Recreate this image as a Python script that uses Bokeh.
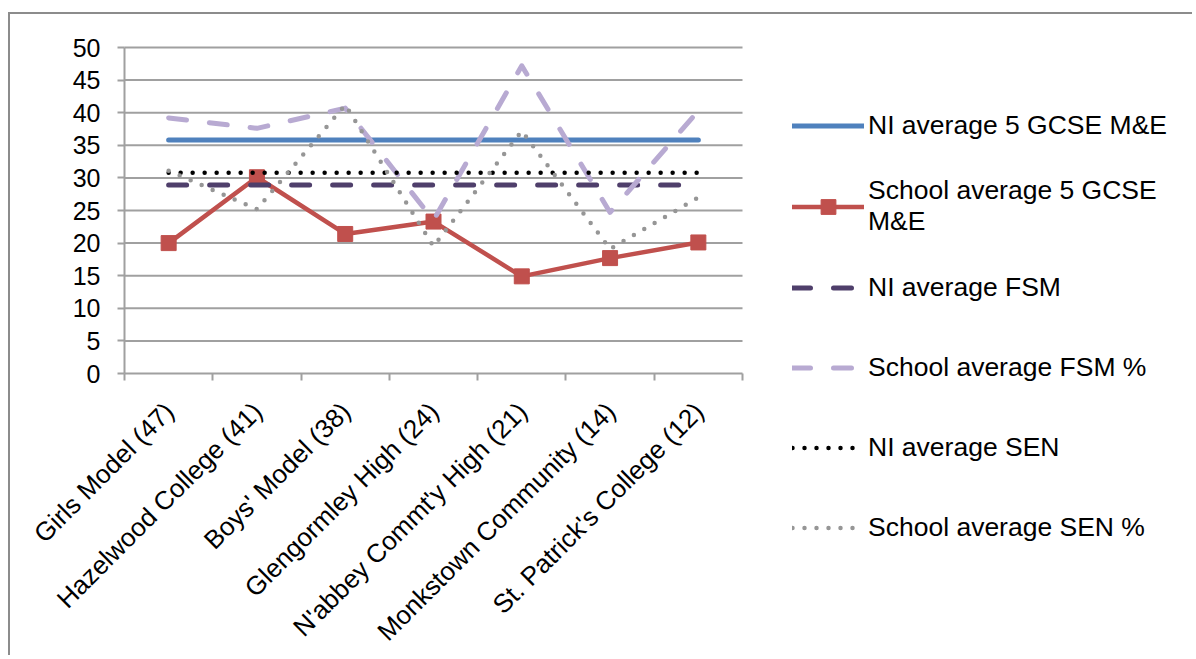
from bokeh.plotting import figure
from bokeh.models import FixedTicker, Legend, LegendItem, Range1d
from bokeh.core.properties import value
from bokeh.embed import file_html
from bokeh.resources import INLINE

categories = ["Girls Model (47)", "Hazelwood College (41)", "Boys' Model (38)",
              "Glengormley High (24)", "N'abbey Commt'y High (21)",
              "Monkstown Community (14)", "St. Patrick's College (12)"]
ni_gcse = [35.8, 35.8, 35.8, 35.8, 35.8, 35.8, 35.8]
school_gcse = [20.0, 30.1, 21.4, 23.3, 14.9, 17.7, 20.1]
ni_fsm = [28.9, 28.9, 28.9, 28.9, 28.9, 28.9, 28.9]
school_fsm = [39.2, 37.6, 40.7, 23.5, 47.2, 24.7, 40.3]
ni_sen = [30.8, 30.8, 30.8, 30.8, 30.8, 30.8, 30.8]
school_sen = [31.1, 25.2, 41.2, 19.5, 37.2, 19.1, 27.0]
y_ticks = [0, 5, 10, 15, 20, 25, 30, 35, 40, 45, 50]

FONT = "Liberation Sans"
GRID = "#a0a0a0"
n = len(categories)
xs = list(range(1, n + 1))

# layout (pixels within the canvas): the frame covers the whole canvas
W, H = 1184, 643
AREA_L, AREA_T = 114, 33          # top-left of the 0..50 / category area
AREA_W, AREA_H = 618, 326
Y_MAX = 50
ux = AREA_W / n                    # px per category
uy = AREA_H / Y_MAX                # px per unit
x_start = 0.5 - AREA_L / ux
x_end = n + 0.5 + (W - AREA_L - AREA_W) / ux
y_end = Y_MAX + AREA_T / uy
y_start = -(H - AREA_T - AREA_H) / uy

p = figure(width=W, height=H, x_range=Range1d(x_start, x_end), y_range=Range1d(y_start, y_end),
           output_backend="svg", toolbar_location=None,
           min_border_left=0, min_border_right=0, min_border_top=0, min_border_bottom=0)
p.styles = {"border-left": "2px solid #8c8c8c", "border-top": "2px solid #8c8c8c",
            "margin-top": "12px", "margin-left": "8px"}
p.outline_line_color = None
p.background_fill_color = "white"
p.border_fill_color = "white"
p.xgrid.visible = False
p.ygrid.visible = False

p.yaxis.fixed_location = 0.5
p.yaxis.ticker = FixedTicker(ticks=y_ticks)
p.yaxis.bounds = (0, Y_MAX)
p.yaxis.axis_line_color = GRID
p.yaxis.axis_line_width = 2
p.yaxis.major_tick_line_color = GRID
p.yaxis.major_tick_line_width = 2
p.yaxis.major_tick_out = 7
p.yaxis.major_tick_in = 0
p.yaxis.minor_tick_line_color = None
p.yaxis.major_label_text_font = FONT
p.yaxis.major_label_text_font_size = "25px"
p.yaxis.major_label_text_color = "black"
p.yaxis.major_label_standoff = 17

bounds_x = [x - 0.5 for x in xs] + [n + 0.5]
p.xaxis.fixed_location = 0
p.xaxis.bounds = (0.5, n + 0.5)
p.xaxis.ticker = FixedTicker(ticks=bounds_x)
p.xaxis.major_label_overrides = {b: "" for b in bounds_x}
p.xaxis.axis_line_color = GRID
p.xaxis.axis_line_width = 2
p.xaxis.major_tick_line_color = GRID
p.xaxis.major_tick_line_width = 2
p.xaxis.major_tick_out = 7
p.xaxis.major_tick_in = 0
p.xaxis.minor_tick_line_color = None

# horizontal gridlines over the category area
p.segment(x0=0.5, x1=n + 0.5, y0=y_ticks[1:], y1=y_ticks[1:], line_color=GRID, line_width=2)

# rotated category labels
p.text(x=xs, y=[0] * n, text=categories, angle=0.785398, text_align="right",
       text_baseline="top", x_offset=-10, y_offset=23, text_font=value(FONT),
       text_font_size="26px", text_color="black")

r1 = p.line(xs, ni_gcse, line_color="#4f81bd", line_width=5, line_cap="round", line_join="round")
r2 = p.line(xs, school_gcse, line_color="#c0504d", line_width=4.5, line_cap="round", line_join="round")
r2m = p.scatter(xs, school_gcse, marker="square", size=15, fill_color="#c0504d", line_color="#c0504d")
r3 = p.line(xs, ni_fsm, line_color="#4f3f6b", line_width=5, line_dash="18 23", line_cap="round")
r4 = p.line(xs, school_fsm, line_color="#b8aad2", line_width=5, line_dash="18 23", line_cap="round", line_join="round")
r5 = p.line(xs, ni_sen, line_color="black", line_width=4.5, line_dash="0 12", line_cap="round")
r6 = p.line(xs, school_sen, line_color="#969696", line_width=4.5, line_dash="0 12", line_cap="round", line_join="round")

legend = Legend(items=[
    LegendItem(label="NI average 5 GCSE M&E", renderers=[r1]),
    LegendItem(label="School average 5 GCSE\nM&E", renderers=[r2, r2m]),
    LegendItem(label="NI average FSM", renderers=[r3]),
    LegendItem(label="School average FSM %", renderers=[r4]),
    LegendItem(label="NI average SEN", renderers=[r5]),
    LegendItem(label="School average SEN %", renderers=[r6]),
], location=(782, 100))
legend.label_text_font = FONT
legend.label_text_font_size = "26.5px"
legend.label_text_color = "black"
legend.glyph_width = 72
legend.glyph_height = 37
legend.label_height = 60
legend.spacing = 20
legend.label_standoff = 4
legend.border_line_color = None
legend.background_fill_alpha = 0
legend.margin = 0
legend.padding = 10
p.add_layout(legend)

open("out.html", "w").write(file_html(p, INLINE))
